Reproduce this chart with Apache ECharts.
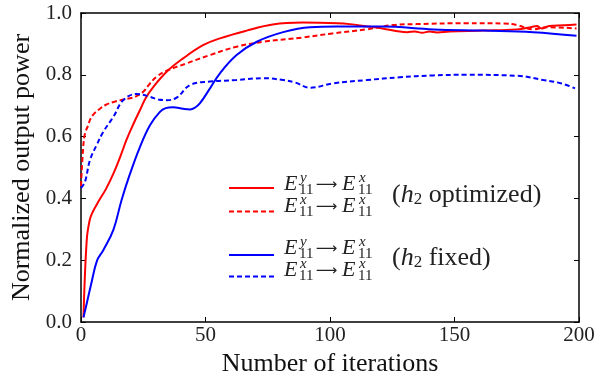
<!DOCTYPE html>
<html><head><meta charset="utf-8">
<script src="https://cdn.jsdelivr.net/npm/echarts@6/dist/echarts.min.js"></script>
<style>html,body{margin:0;padding:0;background:#fff}#c{width:610px;height:373px}</style>
</head><body><div id="c"></div>
<script>
const xTickValues = [0, 50, 100, 150, 200];
const yTickLabels = ['0.0', '0.2', '0.4', '0.6', '0.8', '1.0'];

const redSolid = [[1,0.015],[2.3,0.265],[3.5,0.33],[4.7,0.356],[7,0.39],[10,0.43],[13,0.48],[16,0.54],[18.3,0.59],[21,0.64],[23.7,0.686],[26,0.725],[29,0.76],[34.4,0.81],[41,0.853],[49,0.896],[55.8,0.918],[66.5,0.943],[77,0.963],[89,0.969],[103,0.967],[108,0.964],[115,0.956],[121,0.95],[128,0.94],[131,0.938],[134,0.94],[137,0.936],[140,0.94],[143,0.937],[148,0.94],[161.6,0.943],[175,0.947],[181,0.955],[183,0.958],[185,0.95],[188,0.958],[194,0.96],[199,0.963]];
const redDashed = [[0,0.44],[0.9,0.567],[1.6,0.61],[2.9,0.637],[3.6,0.654],[5,0.672],[7.6,0.69],[10,0.703],[13.5,0.713],[17,0.72],[19.7,0.724],[22,0.73],[25,0.745],[27.5,0.77],[30.4,0.794],[34.4,0.813],[42.4,0.837],[51.8,0.864],[62.5,0.891],[73.2,0.907],[89.3,0.921],[101,0.934],[114.7,0.947],[125.4,0.961],[134.8,0.964],[155,0.967],[170,0.966],[175,0.961],[181.6,0.947],[187,0.954],[199,0.95]];
const blueSolid = [[1,0.015],[2.3,0.06],[4,0.12],[6.5,0.2],[9,0.233],[13,0.298],[16.3,0.395],[19.7,0.48],[23.7,0.567],[27.7,0.637],[31.7,0.68],[34,0.692],[37,0.695],[41,0.69],[43.8,0.688],[46,0.695],[47.8,0.708],[51.8,0.756],[55.8,0.805],[62.5,0.864],[70.6,0.907],[81.2,0.938],[92,0.954],[102.7,0.956],[121,0.956],[141.5,0.947],[161.6,0.943],[181.6,0.938],[199,0.926]];
const blueDashed = [[0,0.433],[1.6,0.454],[3.6,0.524],[6.3,0.573],[9,0.616],[13,0.664],[17,0.718],[22.4,0.738],[27.7,0.729],[31,0.72],[34.4,0.718],[38.4,0.726],[43.8,0.767],[51.8,0.778],[62.5,0.783],[73.2,0.789],[81.2,0.783],[86,0.775],[92,0.758],[101,0.772],[114.7,0.783],[128,0.792],[141.5,0.798],[155,0.8],[175,0.797],[185.7,0.783],[193,0.772],[198.4,0.756]];

const SERIF = 'Liberation Serif';
const chart = echarts.init(document.getElementById('c'));

function axisCommon() {
  return {
    axisLine: { show: true, onZero: false, lineStyle: { color: '#000', width: 1.5 } },
    axisTick: { show: true, inside: true, length: 5, lineStyle: { color: '#000', width: 1 } },
    splitLine: { show: false },
  };
}

function expr(x0, yc, supChar) {
  const els = [];
  const big = { fontFamily: SERIF, fontSize: 22, fontStyle: 'italic', fill: '#222', verticalAlign: 'middle' };
  const small = { fontFamily: SERIF, fontSize: 15, fill: '#222', verticalAlign: 'middle' };
  els.push({ type: 'text', x: x0, y: yc, style: Object.assign({ text: 'E' }, big) });
  els.push({ type: 'text', x: x0 + 16, y: yc - 6, style: Object.assign({ text: supChar }, small, { fontStyle: 'italic' }) });
  els.push({ type: 'text', x: x0 + 15, y: yc + 6, style: Object.assign({ text: '11' }, small) });
  els.push({ type: 'text', x: x0 + 42.5, y: yc + 1, style: Object.assign({ text: '⟶' }, big, { fontStyle: 'normal', fontFamily: 'DejaVu Sans', fontSize: 15, align: 'center' }) });
  els.push({ type: 'text', x: x0 + 58, y: yc, style: Object.assign({ text: 'E' }, big) });
  els.push({ type: 'text', x: x0 + 75, y: yc - 6, style: Object.assign({ text: 'x' }, small, { fontStyle: 'italic' }) });
  els.push({ type: 'text', x: x0 + 74, y: yc + 6, style: Object.assign({ text: '11' }, small) });
  return els;
}

function groupLabel(x0, yc, word) {
  return {
    type: 'text', x: x0, y: yc,
    style: {
      text: '{n|(}{i|h}{s|2}{n| ' + word + ')}',
      verticalAlign: 'middle',
      rich: {
        n: { fontFamily: SERIF, fontSize: 26, fill: '#222', lineHeight: 26 },
        i: { fontFamily: SERIF, fontSize: 26, fontStyle: 'italic', fill: '#222', lineHeight: 26 },
        s: { fontFamily: SERIF, fontSize: 17, fill: '#222', lineHeight: 17, verticalAlign: 'bottom', padding: [6, 0, 0, 0] }
      }
    }
  };
}

const graphics = [].concat(
  expr(284, 184, 'y'), expr(284, 206, 'x'),
  expr(284, 248, 'y'), expr(284, 270, 'x'),
  [groupLabel(392, 195, 'optimized'), groupLabel(392, 258, 'fixed')]
);

const legendCommon = {
  orient: 'vertical', left: 223, itemWidth: 45, itemHeight: 14,
  formatter: () => '', textStyle: { fontSize: 1 }, selectedMode: false,
  itemStyle: { opacity: 0, borderWidth: 0 }
};

chart.setOption({
  animation: false,
  backgroundColor: '#fff',
  grid: { left: 81, top: 13, width: 498, height: 309, outerBoundsMode: 'none', containLabel: false },
  legend: [
    Object.assign({}, legendCommon, { top: 176, itemGap: 11, data: ['rs', 'rd'] }),
    Object.assign({}, legendCommon, { top: 243, itemGap: 9, data: ['bs', 'bd'] })
  ],
  xAxis: [
    Object.assign(axisCommon(), {
      type: 'value', min: 0, max: 200, interval: 50, position: 'bottom',
      name: 'Number of iterations', nameLocation: 'middle', nameGap: 23,
      nameTextStyle: { fontFamily: SERIF, fontSize: 26, color: '#111' },
      axisLabel: { fontFamily: SERIF, fontSize: 21, color: '#222', margin: 3,
        formatter: v => xTickValues.indexOf(v) >= 0 ? String(v) : '' }
    }),
    Object.assign(axisCommon(), {
      type: 'value', min: 0, max: 200, interval: 50, position: 'top', axisLabel: { show: false }
    })
  ],
  yAxis: [
    Object.assign(axisCommon(), {
      type: 'value', min: 0, max: 1, interval: 0.2, position: 'left',
      name: 'Normalized output power', nameLocation: 'middle', nameGap: 46,
      nameTextStyle: { fontFamily: SERIF, fontSize: 26, color: '#111' },
      axisLabel: { fontFamily: SERIF, fontSize: 21, color: '#222', margin: 9,
        formatter: v => yTickLabels[Math.round(v / 0.2)] }
    }),
    Object.assign(axisCommon(), {
      type: 'value', min: 0, max: 1, interval: 0.2, position: 'right', axisLabel: { show: false }
    })
  ],
  series: [
    { name: 'rs', type: 'line', data: redSolid, symbol: 'none', smooth: 0.4, color: '#ff0000', lineStyle: { color: '#ff0000', width: 2 } },
    { name: 'rd', type: 'line', data: redDashed, symbol: 'none', smooth: 0.4, color: '#ff0000', lineStyle: { color: '#ff0000', width: 2, type: [5, 3] } },
    { name: 'bs', type: 'line', data: blueSolid, symbol: 'none', smooth: 0.4, color: '#0000ff', lineStyle: { color: '#0000ff', width: 2 } },
    { name: 'bd', type: 'line', data: blueDashed, symbol: 'none', smooth: 0.4, color: '#0000ff', lineStyle: { color: '#0000ff', width: 2, type: [5, 3] } }
  ],
  graphic: graphics
});
</script></body></html>
